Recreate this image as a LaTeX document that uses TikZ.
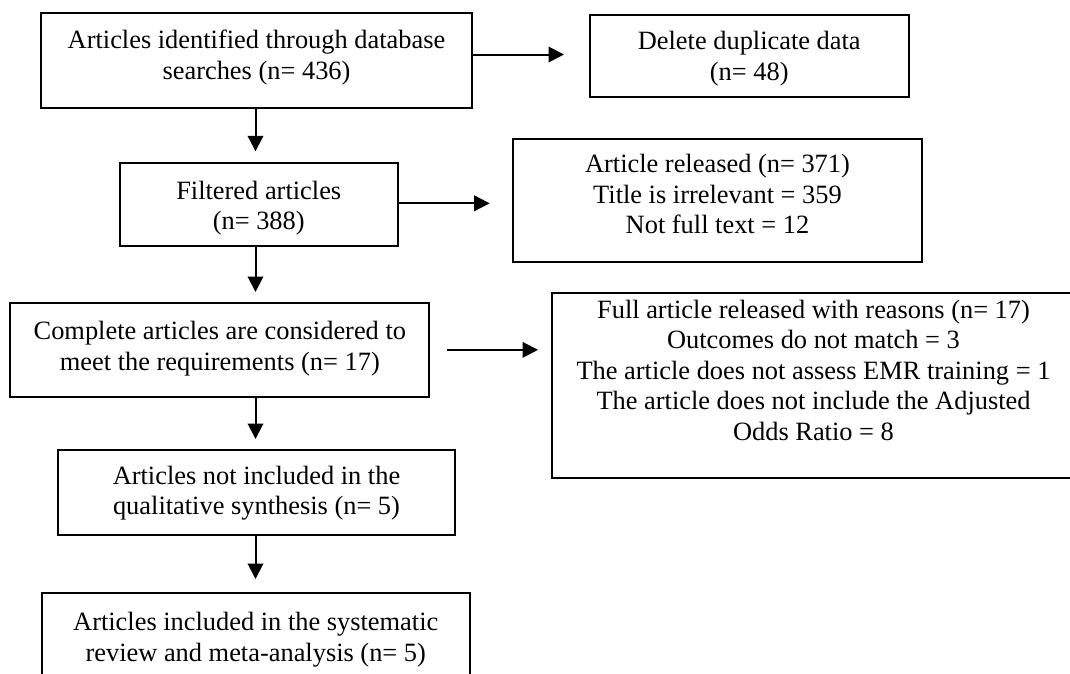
\documentclass[tikz,border=0pt]{standalone}
\usepackage{fontspec}
\setmainfont{Liberation Serif}
\usetikzlibrary{arrows.meta}
\newcommand{\bxt}[4]{\parbox[c][#2][t]{#1}{\centering\vspace*{#3}\strut #4\par}}
\tikzset{
 box/.style={draw, line width=2pt, rectangle, inner sep=0pt, font=\fontsize{26.4}{30.4}\selectfont},
 arr/.style={line width=2pt, -{Triangle[length=15.5pt,width=15.5pt]}},
}
\begin{document}
\begin{tikzpicture}[x=1pt,y=-1pt]
\useasboundingbox (0,0) rectangle (1070,673);
\clip (0,0) rectangle (1070,673);
\fill[white] (0,0) rectangle (1070,673);
\node[box] (b1) at (256.5,60.25) {\bxt{430.5pt}{95.1pt}{15pt}{Articles identified through database\\searches (n= 436)}};
\node[box] (b2) at (749.25,56.2) {\bxt{318.5pt}{82.4pt}{13.7pt}{Delete duplicate data\\(n= 48)}};
\node[box] (b3) at (258.75,204.5) {\bxt{278pt}{83pt}{15pt}{Filtered articles\\(n= 388)}};
\node[box] (b4) at (717.5,200.5) {\bxt{409pt}{123pt}{12.4pt}{Article released (n= 371)\\Title is irrelevant = 359\\Not full text = 12}};
\node[box] (b5) at (219.85,349.85) {\bxt{419pt}{93.7pt}{15.7pt}{Complete articles are considered to\\meet the requirements (n= 17)}};
\node[box] (b6) at (813.5,385) {\bxt{523pt}{185pt}{4.7pt}{Full article released with reasons (n= 17)\\Outcomes do not match = 3\\The article does not assess EMR training = 1\\The article does not include the Adjusted\\Odds Ratio = 8}};
\node[box] (b7) at (256.5,492.7) {\bxt{397pt}{85.4pt}{13.1pt}{Articles not included in the\\qualitative synthesis (n= 5)}};
\node[box] (b8) at (255.75,640.5) {\bxt{427.5pt}{95pt}{16.7pt}{Articles included in the systematic\\review and meta-analysis (n= 5)}};
\coordinate (vx) at (255.5,0);
\coordinate (p1) at ([yshift=5.75pt]b1.east);
\coordinate (p3) at ([yshift=1.2pt]b3.east);
\coordinate (p5) at (b5.east);
\draw[arr, shorten >=25pt] (p1) -- (p1 -| b2.west);
\draw[arr, shorten >=22.3pt] (p3) -- (p3 -| b4.west);
\draw[arr, shorten <=16.6pt, shorten >=13pt] (p5) -- (p5 -| b6.west);
\draw[arr, shorten >=10.7pt] (b1.south -| vx) -- (b3.north -| vx);
\draw[arr, shorten >=10pt] (b3.south -| vx) -- (b5.north -| vx);
\draw[arr, shorten >=10pt] (b5.south -| vx) -- (b7.north -| vx);
\draw[arr, shorten >=13pt] (b7.south -| vx) -- (b8.north -| vx);
\end{tikzpicture}
\end{document}
